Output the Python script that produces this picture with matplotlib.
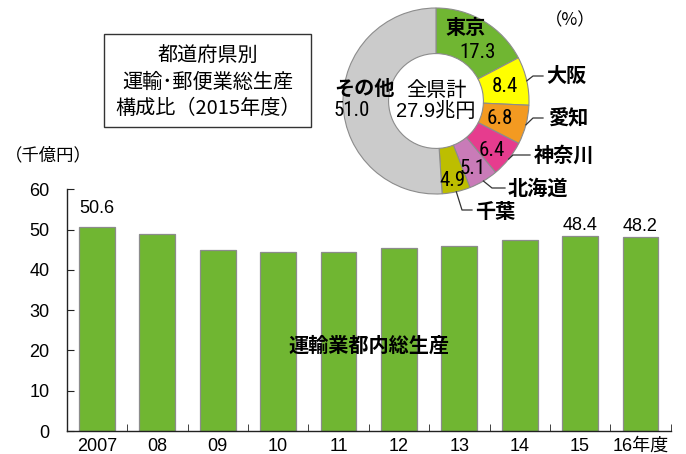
import numpy as np
import matplotlib
matplotlib.use("Agg")
import matplotlib.pyplot as plt

# ---------------- data ----------------
years = ["2007", "08", "09", "10", "11", "12", "13", "14", "15", "16年度"]
values = [50.6, 49.0, 44.8, 44.4, 44.4, 45.5, 45.8, 47.4, 48.4, 48.2]
labeled_idx = [0, 8, 9]
label_offset = [3.6, 1.5, 1.5]

pref_names = ["東京", "大阪", "愛知", "神奈川", "北海道", "千葉", "その他"]
pref_share = [17.3, 8.4, 6.8, 6.4, 5.1, 4.9, 51.0]
pref_colors = ["#70B632", "#FFFF00", "#F39A21", "#E63C8E", "#C97BB8", "#BDBE00", "#CBCBCB"]

yticks = [0, 10, 20, 30, 40, 50, 60]

JP = "Noto Sans CJK JP"
NUMF = ["Liberation Sans", JP]
CONDF = ["Roboto Condensed", "Liberation Sans", JP]
JPF = [JP, "DejaVu Sans"]

W, H = 686, 454
fig = plt.figure(figsize=(W / 100, H / 100), dpi=100)

# ---------------- bar chart ----------------
ax_l, ax_r, ax_b, ax_t = 66.7, 670.7, 431, 189.2
ax = fig.add_axes([ax_l / W, (H - ax_b) / H, (ax_r - ax_l) / W, (ax_b - ax_t) / H])
x = np.arange(len(years))
ax.bar(x, values, width=0.59, color="#70B632", edgecolor="#8C8C8C", linewidth=0.9, zorder=2)
ax.set_xlim(-0.5, len(years) - 0.5)
ax.set_ylim(0, 60)
for s in ["top", "right"]:
    ax.spines[s].set_visible(False)
for s in ["left", "bottom"]:
    ax.spines[s].set_color("#222222")
    ax.spines[s].set_linewidth(1.0)
ax.set_yticks(yticks)
ax.set_yticklabels([str(t) for t in yticks], fontfamily=NUMF, fontsize=13)
ax.tick_params(axis="y", direction="in", length=5, pad=12.5, color="#222222")
ax.set_xticks(x)
ax.set_xticklabels(years, fontfamily=NUMF, fontsize=13)
ax.tick_params(axis="x", length=0, pad=5)
ax.set_xticks(np.arange(len(years) + 1) - 0.5, minor=True)
ax.tick_params(axis="x", which="minor", direction="in", length=5, color="#222222")
for i, off in zip(labeled_idx, label_offset):
    ax.text(x[i], values[i] + off, f"{values[i]:.1f}", ha="center", va="baseline",
            fontfamily=NUMF, fontsize=13)
ax.text(4.5, 21.3, "運輸業都内総生産", ha="center", va="center",
        fontfamily=JPF, fontsize=14.5, fontweight="bold", zorder=3)
fig.text(5 / W, (H - 155) / H, "（千億円）", ha="left", va="center",
         fontfamily=JPF, fontsize=12.5)

# ---------------- title box ----------------
fig.patches.append(plt.Rectangle((104 / W, (H - 127) / H), (311 - 104) / W, (127 - 34) / H,
                                 transform=fig.transFigure, fill=False,
                                 edgecolor="#333333", linewidth=1.0))
for txt, yy in [("都道府県別", 55), ("運輸･郵便業総生産", 82), ("構成比（2015年度）", 108)]:
    fig.text(208 / W, (H - yy) / H, txt, ha="center", va="center",
             fontfamily=JPF, fontsize=14.5)

# ---------------- donut ----------------
pa = fig.add_axes([0, 0, 1, 1])
cx, cy, R = 436, H - 101, 93
pa.pie(pref_share, colors=pref_colors, startangle=90, counterclock=False,
       center=(cx, cy), radius=R,
       wedgeprops=dict(width=R * 0.49, edgecolor="#8C8C8C", linewidth=0.8))
pa.set_xlim(0, W)
pa.set_ylim(0, H)
pa.set_aspect("auto")
pa.axis("off")

BOLD = dict(fontfamily=JPF, fontweight="bold", fontsize=14.5, ha="center", va="center")
VAL = dict(fontfamily=CONDF, fontsize=15, ha="center", va="center")

val_pos = [(478, 52), (505, 87), (500, 118), (492, 150), (473, 168), (452, 180), (352, 110)]
for (px, py), v in zip(val_pos, pref_share):
    pa.text(px, H - py, f"{v:.1f}", **VAL)
pa.text(466, H - 28, pref_names[0], **BOLD)
pa.text(364, H - 88, pref_names[6], **BOLD)

cum = np.cumsum([0] + pref_share)
total = sum(pref_share)
leader = {1: ((533, 76), (543, 76), (566, 76)),
          2: ((533, 118), (543, 118), (569, 118)),
          3: ((513, 155), (530, 155), (564, 155)),
          4: ((492, 188), (505, 188), (538, 188)),
          5: ((462, 210), (472, 210), (495, 211))}
for i, ((bx, by), (ex, ey), (tx, ty)) in leader.items():
    mid = 90 - 360 * (cum[i] + cum[i + 1]) / 2 / total
    sx = cx + R * np.cos(np.radians(mid))
    sy = cy + R * np.sin(np.radians(mid))
    pa.plot([sx, bx, ex], [sy, H - by, H - ey], color="#333333", linewidth=0.9)
    pa.text(tx, H - ty, pref_names[i], **BOLD)

pa.text(cx, H - 90, "全県計", fontfamily=JPF, fontsize=14.5, ha="center", va="center")
pa.text(cx, H - 111, "27.9兆円", fontfamily=[ "Liberation Sans", JP], fontsize=14.5,
        ha="center", va="center")
pa.text(570, H - 20, "（%）", fontfamily=JPF, fontsize=12.5, ha="center", va="center")

fig.savefig("out.png", dpi=100)
